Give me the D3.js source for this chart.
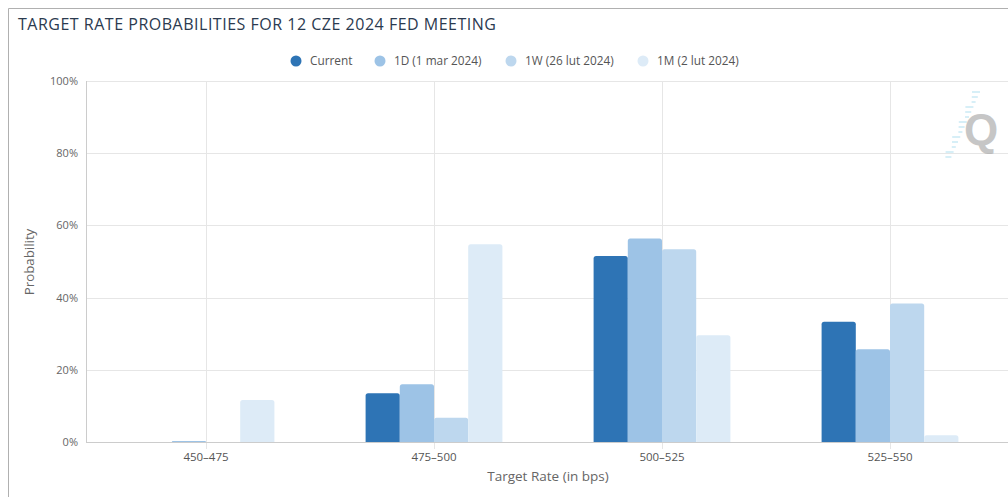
<!DOCTYPE html>
<html>
<head>
<meta charset="utf-8">
<script src="https://cdn.jsdelivr.net/npm/d3@7"></script>
<style>
  html, body { margin: 0; padding: 0; background: #fff; }
  svg { display: block; font-family: "Open Sans", "DejaVu Sans", sans-serif; }
</style>
</head>
<body>
<svg id="chart" width="1008" height="497"></svg>
<script>
const categories = ["450-475", "475-500", "500-525", "525-550"];
const seriesNames = ["Current", "1D (1 mar 2024)", "1W (26 lut 2024)", "1M (2 lut 2024)"];
const currentVals = [0, 13.5, 51.5, 33.3];
const oneDayVals = [0.3, 16.0, 56.4, 25.7];
const oneWeekVals = [0, 6.7, 53.4, 38.4];
const oneMonthVals = [11.6, 54.8, 29.6, 1.9];
const yTicks = [0, 20, 40, 60, 80, 100];
const colors = ["#2e74b5", "#9dc3e6", "#bdd7ee", "#ddebf7"];

const seriesVals = [currentVals, oneDayVals, oneWeekVals, oneMonthVals];

const svg = d3.select("#chart");

// frame
svg.append("path")
  .attr("d", "M8.5,497 L8.5,8.5 L1008,8.5")
  .attr("fill", "none").attr("stroke", "#b0b0b0").attr("stroke-width", 1);

// title
svg.append("text")
  .attr("x", 18).attr("y", 30)
  .attr("font-size", 16)
  .attr("fill", "#2b3a4f")
  .attr("textLength", 478).attr("lengthAdjust", "spacing")
  .text("TARGET RATE PROBABILITIES FOR 12 CZE 2024 FED MEETING");

const x0 = d3.scaleBand().domain(categories).range([92, 1004]).paddingInner(0).paddingOuter(0);
const y = d3.scaleLinear().domain([0, 100]).range([442, 81]);
const groupW = x0.bandwidth() * 0.6;
const x1 = d3.scaleBand().domain(d3.range(seriesNames.length)).range([0, groupW]).padding(0);

// horizontal grid
svg.append("g").selectAll("line").data(yTicks.filter(t => t > 0)).join("line")
  .attr("x1", 86).attr("x2", 1008)
  .attr("y1", d => Math.round(y(d)) + 0.5).attr("y2", d => Math.round(y(d)) + 0.5)
  .attr("stroke", "#e6e6e6");

// vertical grid at category centers
svg.append("g").selectAll("line").data(categories).join("line")
  .attr("x1", d => Math.round(x0(d) + x0.bandwidth() / 2) + 0.5)
  .attr("x2", d => Math.round(x0(d) + x0.bandwidth() / 2) + 0.5)
  .attr("y1", 81).attr("y2", 449)
  .attr("stroke", "#e6e6e6");

// y axis line
svg.append("line").attr("x1", 86.5).attr("x2", 86.5).attr("y1", 81).attr("y2", 442)
  .attr("stroke", "#cccccc");

// y tick labels
svg.append("g").selectAll("text").data(yTicks).join("text")
  .attr("x", 78).attr("y", d => y(d) + 4)
  .attr("text-anchor", "end")
  .attr("font-size", 11).attr("fill", "#666")
  .text(d => d + "%");

// y title
svg.append("text")
  .attr("transform", "translate(34,262) rotate(-90)")
  .attr("text-anchor", "middle")
  .attr("font-size", 13.3).attr("fill", "#666")
  .text("Probability");

// watermark
const wm = svg.append("g").attr("opacity", 0.55);
for (let i = 0; i < 14; i++) {
  const yy = 92 + i * 5;
  const xx = 980 - i * 2.2;
  wm.append("line").attr("x1", xx - 8 + (i % 3) * 2).attr("x2", xx).attr("y1", yy).attr("y2", yy)
    .attr("stroke", "#9fd8ee").attr("stroke-width", 1.5);
}
wm.append("text").attr("x", 964).attr("y", 145).attr("font-size", 44).attr("font-weight", "bold")
  .attr("fill", "#999").attr("font-family", "Liberation Sans, Arial, sans-serif").text("Q");

// bars
function topRounded(x, yTop, w, h, r) {
  if (h <= 0) return "";
  const rr = Math.min(r, h, w / 2);
  return `M${x},${yTop + h} L${x},${yTop + rr} Q${x},${yTop} ${x + rr},${yTop} L${x + w - rr},${yTop} Q${x + w},${yTop} ${x + w},${yTop + rr} L${x + w},${yTop + h} Z`;
}

const groups = svg.append("g").selectAll("g").data(categories).join("g")
  .attr("transform", d => `translate(${x0(d) + (x0.bandwidth() - groupW) / 2},0)`);

groups.selectAll("path").data((d, ci) => seriesVals.map((vals, si) => ({ si, v: vals[ci] }))).join("path")
  .attr("d", d => topRounded(x1(d.si), y(d.v), x1.bandwidth(), y(0) - y(d.v), 2.5))
  .attr("fill", d => colors[d.si]);

// x axis baseline
svg.append("line").attr("x1", 86).attr("x2", 1008).attr("y1", 442.5).attr("y2", 442.5)
  .attr("stroke", "#cccccc");

// x tick labels
svg.append("g").selectAll("text").data(categories).join("text")
  .attr("x", d => x0(d) + x0.bandwidth() / 2).attr("y", 461)
  .attr("text-anchor", "middle")
  .attr("font-size", 11.5).attr("fill", "#555")
  .text(d => d.replace("-", "–"));

// x title
svg.append("text")
  .attr("x", 548).attr("y", 481)
  .attr("text-anchor", "middle")
  .attr("font-size", 13.5).attr("fill", "#666")
  .text("Target Rate (in bps)");

// legend
const legendX = [296, 380, 511, 643];
const lg = svg.append("g").selectAll("g").data(seriesNames).join("g")
  .attr("transform", (d, i) => `translate(${legendX[i]},61)`);
lg.append("circle").attr("r", 5.5).attr("fill", (d, i) => colors[i]);
lg.append("text").attr("x", 14).attr("y", 4).attr("font-size", 11.8).attr("fill", "#555").text(d => d);
</script>
</body>
</html>
